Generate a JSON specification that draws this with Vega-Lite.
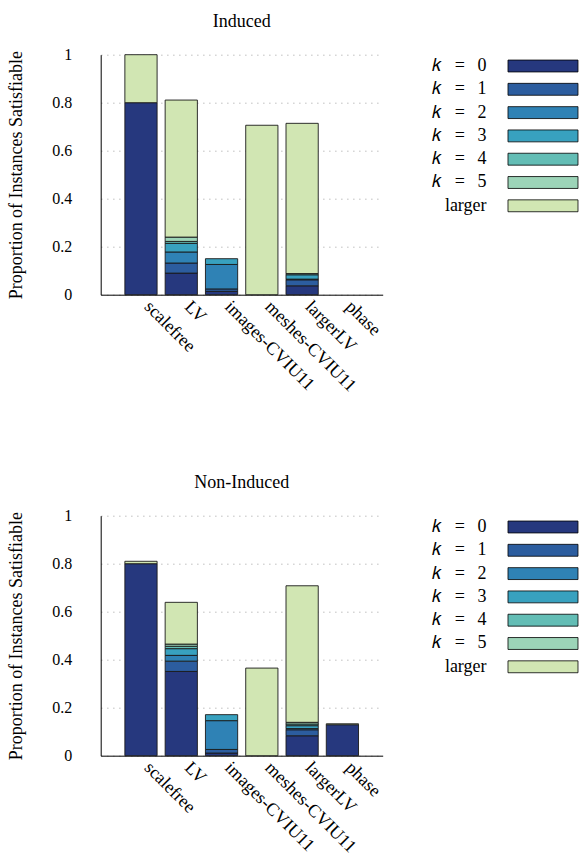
{
  "$schema": "https://vega.github.io/schema/vega-lite/v6.json",
  "padding": {"left": 6.7, "top": 12.7, "right": 0, "bottom": 0},
  "background": "white",
  "datasets": {
    "induced": [
      {"dataset": "scalefree", "k": "k = 0", "value": 0.80},
      {"dataset": "scalefree", "k": "larger", "value": 0.20},
      {"dataset": "LV", "k": "k = 0", "value": 0.090},
      {"dataset": "LV", "k": "k = 1", "value": 0.042},
      {"dataset": "LV", "k": "k = 2", "value": 0.046},
      {"dataset": "LV", "k": "k = 3", "value": 0.036},
      {"dataset": "LV", "k": "k = 4", "value": 0.008},
      {"dataset": "LV", "k": "k = 5", "value": 0.018},
      {"dataset": "LV", "k": "larger", "value": 0.571},
      {"dataset": "images-CVIU11", "k": "k = 0", "value": 0.014},
      {"dataset": "images-CVIU11", "k": "k = 1", "value": 0.010},
      {"dataset": "images-CVIU11", "k": "k = 2", "value": 0.102},
      {"dataset": "images-CVIU11", "k": "k = 3", "value": 0.024},
      {"dataset": "meshes-CVIU11", "k": "larger", "value": 0.706},
      {"dataset": "largerLV", "k": "k = 0", "value": 0.037},
      {"dataset": "largerLV", "k": "k = 1", "value": 0.025},
      {"dataset": "largerLV", "k": "k = 2", "value": 0.003},
      {"dataset": "largerLV", "k": "k = 3", "value": 0.018},
      {"dataset": "largerLV", "k": "k = 4", "value": 0.005},
      {"dataset": "largerLV", "k": "larger", "value": 0.626}
    ],
    "noninduced": [
      {"dataset": "scalefree", "k": "k = 0", "value": 0.80},
      {"dataset": "scalefree", "k": "larger", "value": 0.01},
      {"dataset": "LV", "k": "k = 0", "value": 0.351},
      {"dataset": "LV", "k": "k = 1", "value": 0.043},
      {"dataset": "LV", "k": "k = 2", "value": 0.024},
      {"dataset": "LV", "k": "k = 3", "value": 0.028},
      {"dataset": "LV", "k": "k = 4", "value": 0.010},
      {"dataset": "LV", "k": "k = 5", "value": 0.009},
      {"dataset": "LV", "k": "larger", "value": 0.174},
      {"dataset": "images-CVIU11", "k": "k = 0", "value": 0.011},
      {"dataset": "images-CVIU11", "k": "k = 1", "value": 0.015},
      {"dataset": "images-CVIU11", "k": "k = 2", "value": 0.120},
      {"dataset": "images-CVIU11", "k": "k = 3", "value": 0.025},
      {"dataset": "meshes-CVIU11", "k": "larger", "value": 0.365},
      {"dataset": "largerLV", "k": "k = 0", "value": 0.083},
      {"dataset": "largerLV", "k": "k = 1", "value": 0.025},
      {"dataset": "largerLV", "k": "k = 2", "value": 0.005},
      {"dataset": "largerLV", "k": "k = 3", "value": 0.012},
      {"dataset": "largerLV", "k": "k = 4", "value": 0.007},
      {"dataset": "largerLV", "k": "k = 5", "value": 0.007},
      {"dataset": "largerLV", "k": "larger", "value": 0.569},
      {"dataset": "phase", "k": "k = 0", "value": 0.129},
      {"dataset": "phase", "k": "larger", "value": 0.004}
    ]
  },
  "config": {
    "font": "Liberation Serif",
    "view": {"stroke": null},
    "axis": {
      "domainColor": "black",
      "domainWidth": 1,
      "ticks": false,
      "labelFont": "Liberation Serif",
      "labelFontSize": 16,
      "labelColor": "black",
      "titleFont": "Liberation Serif",
      "titleFontSize": 18,
      "titleFontWeight": "normal",
      "titleColor": "black"
    },
    "axisY": {"grid": true, "gridColor": "#b5b5b5", "gridDash": [1.3, 4.7], "gridWidth": 1},
    "axisX": {"grid": false},
    "title": {"font": "Liberation Serif", "fontSize": 18, "fontWeight": "normal", "color": "black", "offset": 16},
    "legend": {
      "orient": "none",
      "legendX": 433.3,
      "legendY": 2.3,
      "title": null,
      "padding": 0,
      "symbolType": "M-5,-0.85H5V0.85H-5Z",
      "symbolSize": 196,
      "symbolStrokeColor": "black",
      "symbolStrokeWidth": 0.8,
      "rowPadding": 5.3,
      "labelAlign": "right",
      "labelOffset": -65.5,
      "labelFont": "Liberation Serif",
      "labelFontSize": 18,
      "labelColor": "black"
    }
  },
  "bounds": "flush",
  "spacing": 221,
  "resolve": {"legend": {"color": "independent"}},
  "vconcat": [
    {
      "title": "Induced",
      "data": {"name": "induced"},
      "width": 282,
      "height": 240,
      "mark": {"type": "bar", "stroke": "#1a1a1a", "strokeWidth": 0.9},
      "encoding": {
        "x": {
          "field": "dataset", "type": "nominal",
          "scale": {"domain": ["scalefree", "LV", "images-CVIU11", "meshes-CVIU11", "largerLV", "phase"], "paddingInner": 0.2, "paddingOuter": 0.6},
          "sort": null,
          "axis": {"title": null, "labelAngle": 45, "labelAlign": "left", "labelBaseline": "middle", "labelPadding": 9, "labelOffset": 6, "labelFontSize": 18}
        },
        "y": {
          "field": "value", "type": "quantitative", "stack": "zero",
          "scale": {"domain": [0, 1], "nice": false},
          "axis": {"title": "Proportion of Instances Satisfiable", "values": [0, 0.2, 0.4, 0.6, 0.8, 1], "format": "~g", "labelPadding": 29, "titlePadding": 26}
        },
        "order": {"field": "k", "type": "ordinal", "sort": "ascending"},
        "color": {
          "field": "k", "type": "nominal",
          "scale": {"domain": ["k = 0", "k = 1", "k = 2", "k = 3", "k = 4", "k = 5", "larger"], "range": ["#26387e", "#2c5d9f", "#2f82b5", "#38a1bf", "#63bdb5", "#9cd4b8", "#d1e6b3"]},
          "legend": {"labelExpr": "replace(replace(datum.label, ' = ', '\u2002\u2009=\u2002\u2009'), 'k', '\ud835\udc58')"}
        }
      }
    },
    {
      "title": "Non-Induced",
      "data": {"name": "noninduced"},
      "width": 282,
      "height": 240,
      "mark": {"type": "bar", "stroke": "#1a1a1a", "strokeWidth": 0.9},
      "encoding": {
        "x": {
          "field": "dataset", "type": "nominal",
          "scale": {"domain": ["scalefree", "LV", "images-CVIU11", "meshes-CVIU11", "largerLV", "phase"], "paddingInner": 0.2, "paddingOuter": 0.6},
          "sort": null,
          "axis": {"title": null, "labelAngle": 45, "labelAlign": "left", "labelBaseline": "middle", "labelPadding": 9, "labelOffset": 6, "labelFontSize": 18}
        },
        "y": {
          "field": "value", "type": "quantitative", "stack": "zero",
          "scale": {"domain": [0, 1], "nice": false},
          "axis": {"title": "Proportion of Instances Satisfiable", "values": [0, 0.2, 0.4, 0.6, 0.8, 1], "format": "~g", "labelPadding": 29, "titlePadding": 26}
        },
        "order": {"field": "k", "type": "ordinal", "sort": "ascending"},
        "color": {
          "field": "k", "type": "nominal",
          "scale": {"domain": ["k = 0", "k = 1", "k = 2", "k = 3", "k = 4", "k = 5", "larger"], "range": ["#26387e", "#2c5d9f", "#2f82b5", "#38a1bf", "#63bdb5", "#9cd4b8", "#d1e6b3"]},
          "legend": {"labelExpr": "replace(replace(datum.label, ' = ', '\u2002\u2009=\u2002\u2009'), 'k', '\ud835\udc58')"}
        }
      }
    }
  ]
}
